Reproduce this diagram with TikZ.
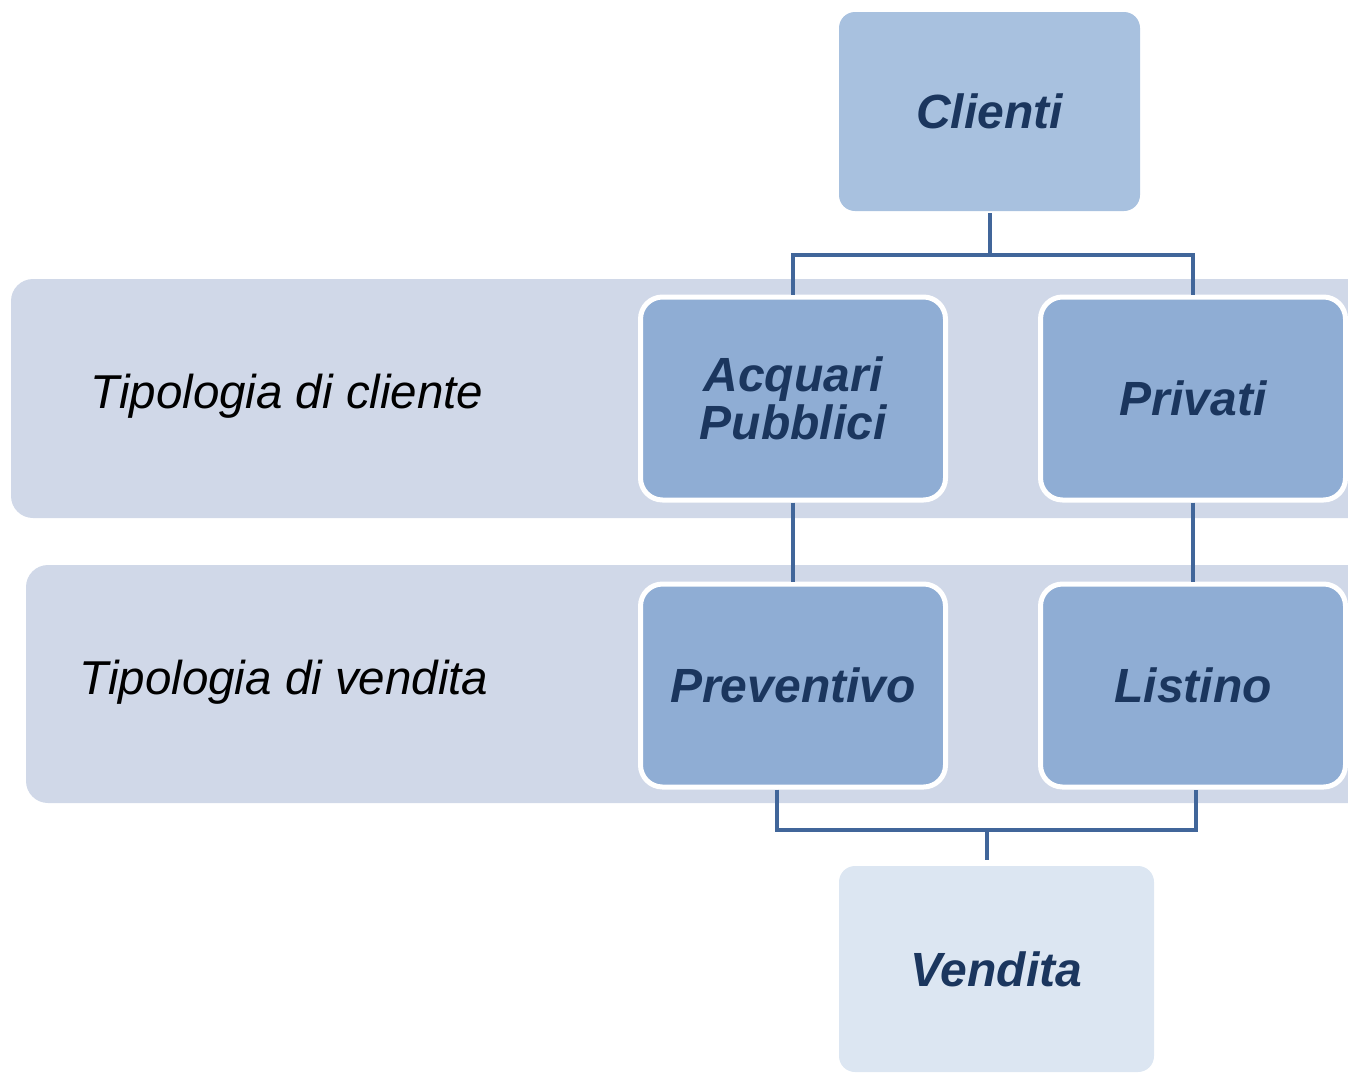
\documentclass[tikz,border=0pt]{standalone}
\usepackage{fontspec}
\setmainfont{Liberation Sans}
\definecolor{bandgray}{HTML}{D0D8E8}
\definecolor{topblue}{HTML}{A8C1DF}
\definecolor{midblue}{HTML}{8FADD4}
\definecolor{lowblue}{HTML}{DCE6F2}
\definecolor{linkblue}{HTML}{41669A}
\definecolor{navy}{HTML}{1B365E}
\begin{document}
\begin{tikzpicture}[x=1pt,y=-1pt,
    band/.style={fill=bandgray, rounded corners=22pt},
    rowlabel/.style={font=\fontsize{47.5}{48}\selectfont\itshape, text=black},
    boxtext/.style={text=navy, align=center, inner sep=0pt,
      font=\fontsize{48}{48}\selectfont\bfseries\itshape},
    endbox/.style={boxtext, rounded corners=16pt},
    midbox/.style={boxtext, fill=midblue, draw=white, line width=5pt,
      rounded corners=22pt, minimum width=305pt, minimum height=203pt},
    conn/.style={draw=linkblue, line width=4pt}]
      \useasboundingbox (0,0) rectangle (1348,1074);
      \clip (0,0) rectangle (1348,1074);
      % bands
      \fill[band] (11,279) rectangle (1380,518);
      \fill[band] (26,565) rectangle (1380,803);
      \node[rowlabel] (lblcliente) at (287,396) {Tipologia di cliente};
      \node[rowlabel] (lblvendita) at (284,682) {Tipologia di vendita};
      % boxes
      \node[endbox, fill=topblue, minimum width=301pt, minimum height=199pt] (clienti) at (989.5,111.5) {Clienti};
      \node[midbox] (acq) at (793,398.5) {Acquari\\Pubblici};
      \node[midbox] (priv) at (1193,398.5) {Privati};
      \node[midbox] (prev) at (793,685.5) {Preventivo};
      \node[midbox] (list) at (1193,685.5) {Listino};
      \node[endbox, fill=lowblue, minimum width=315pt, minimum height=206pt] (vendita) at (996.5,969) {Vendita};
      % Clienti to the two kinds of client
      \draw[conn] ([yshift=-2pt]clienti.south) -- ++(0,42) coordinate (splittop);
      \draw[conn] (acq.north) |- (splittop) -| (priv.north);
      % client to kind of sale
      \draw[conn] (acq) -- (prev);
      \draw[conn] (priv) -- (list);
      % kinds of sale to Vendita
      \draw[conn] ([xshift=-9.5pt,yshift=6pt]vendita.north) -- ++(0,-30) coordinate (splitbot);
      \draw[conn] ([xshift=-16pt]prev.south) |- (splitbot) -| ([xshift=3pt]list.south);
\end{tikzpicture}
\end{document}
